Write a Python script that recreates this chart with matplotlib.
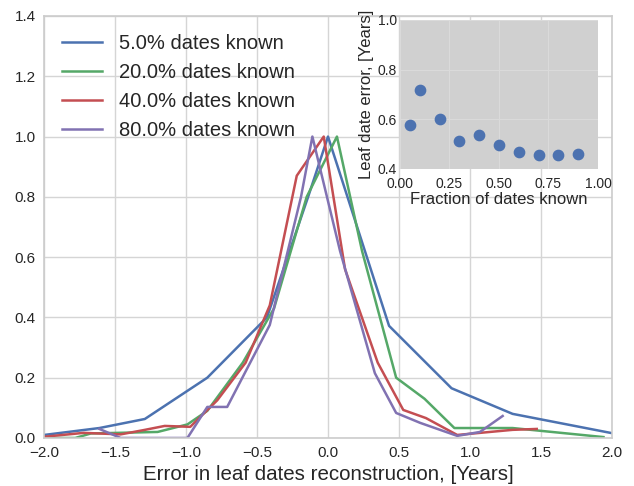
import matplotlib
matplotlib.use("Agg")
import matplotlib.pyplot as plt

# ---- data ----
labels = ["5.0% dates known", "20.0% dates known",
          "40.0% dates known", "80.0% dates known"]
colors = ["#4C72B0", "#55A868", "#C44E52", "#8172B2"]

x_5 = [-2.0, -1.61, -1.29, -0.85, -0.43, -0.14, 0.0, 0.43, 0.87, 1.30, 2.0]
y_5 = [0.01, 0.033, 0.063, 0.20, 0.40, 0.80, 1.0, 0.372, 0.165, 0.08, 0.016]

x_20 = [-2.0, -1.78, -1.67, -1.2, -0.99, -0.85, -0.6, -0.38, -0.15, 0.063,
        0.24, 0.48, 0.68, 0.89, 1.30, 1.94]
y_20 = [0.0, 0.0, 0.015, 0.02, 0.045, 0.09, 0.25, 0.43, 0.80, 1.0,
        0.62, 0.20, 0.13, 0.033, 0.033, 0.003]

x_40 = [-2.0, -1.72, -1.46, -1.3, -1.15, -0.97, -0.78, -0.58, -0.41, -0.22,
        -0.03, 0.12, 0.35, 0.53, 0.69, 0.91, 1.30, 1.47]
y_40 = [0.004, 0.017, 0.012, 0.026, 0.04, 0.037, 0.125, 0.25, 0.44, 0.87,
        1.0, 0.56, 0.25, 0.093, 0.066, 0.01, 0.027, 0.03]

x_80 = [-1.61, -1.46, -0.99, -0.85, -0.71, -0.41, -0.19, -0.11, 0.085, 0.33,
        0.48, 0.65, 0.91, 1.07, 1.23]
y_80 = [0.03, 0.0, 0.0, 0.103, 0.103, 0.375, 0.80, 1.0, 0.62, 0.215,
        0.083, 0.05, 0.007, 0.02, 0.073]

frac_known = [0.05, 0.1, 0.2, 0.3, 0.4, 0.5, 0.6, 0.7, 0.8, 0.9]
leaf_err = [0.579, 0.72, 0.60, 0.513, 0.538, 0.495, 0.467, 0.455, 0.456, 0.462]

plt.rcParams.update({"font.family": ["Liberation Sans", "DejaVu Sans"],
                     "text.color": "#262626", "axes.labelcolor": "#262626",
                     "xtick.color": "#262626", "ytick.color": "#262626"})

fig = plt.figure(figsize=(6.34, 4.86), dpi=100)
ax = fig.add_axes([0.0694, 0.0988, 0.8959, 0.8683])
ax.set_facecolor("white")
for s in ax.spines.values():
    s.set_color("#cccccc")
    s.set_linewidth(1.2)
ax.grid(True, color="#d5d5d5", linewidth=1.0)
ax.set_axisbelow(True)
ax.tick_params(length=0, labelsize=11, pad=6)

series = [(x_5, y_5), (x_20, y_20), (x_40, y_40), (x_80, y_80)]
for (xs, ys), c, lab in zip(series, colors, labels):
    ax.plot(xs, ys, color=c, linewidth=1.8, label=lab)

ax.set_xlim(-2.0, 2.0)
ax.set_ylim(0.0, 1.4)
ax.set_xticks([-2.0, -1.5, -1.0, -0.5, 0.0, 0.5, 1.0, 1.5, 2.0])
ax.set_yticks([0.0, 0.2, 0.4, 0.6, 0.8, 1.0, 1.2, 1.4])
ax.set_xlabel("Error in leaf dates reconstruction, [Years]", fontsize=14.8,
              labelpad=3.5)
ax.legend(loc="upper left", fontsize=14.5, frameon=False,
          bbox_to_anchor=(0.0, 1.0), handlelength=2.0, handletextpad=0.8,
          labelspacing=0.5, borderaxespad=0.5)

# inset
ins = fig.add_axes([0.6309, 0.6523, 0.3123, 0.3066])
ins.set_facecolor("#d0d0d0")
for s in ins.spines.values():
    s.set_visible(False)
ins.grid(True, color="#dadada", linewidth=0.8)
ins.set_axisbelow(True)
ins.scatter(frac_known, leaf_err, s=55, color="#4C72B0", zorder=3)
ins.set_xlim(0.0, 1.0)
ins.set_ylim(0.4, 1.0)
ins.set_xticks([0.0, 0.25, 0.5, 0.75, 1.0])
ins.set_yticks([0.4, 0.6, 0.8, 1.0])
ins.tick_params(axis="x", length=0, labelsize=10, pad=5.5)
ins.tick_params(axis="y", length=0, labelsize=10, pad=2)
ins.set_xlabel("Fraction of dates known", fontsize=12, labelpad=1)
ins.set_ylabel("Leaf date error, [Years]", fontsize=12, labelpad=3)

fig.savefig("out.png", dpi=100)
